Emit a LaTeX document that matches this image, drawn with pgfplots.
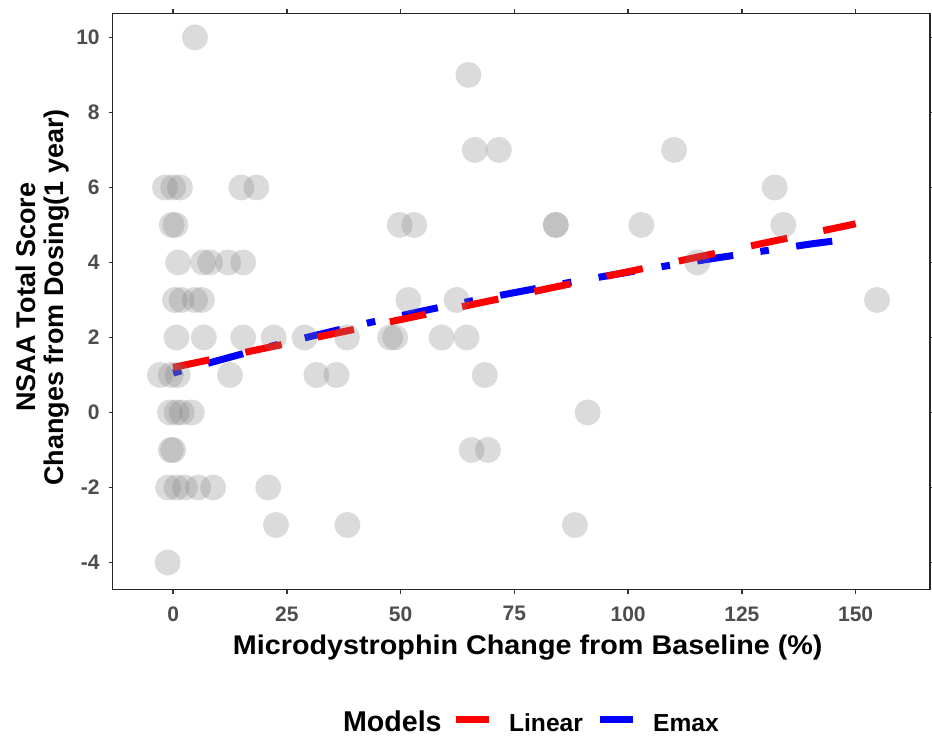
\documentclass[border=0pt]{standalone}
\usepackage{fontspec}
\setmainfont{Liberation Sans}
\usepackage{pgfplots}
\pgfplotsset{compat=1.18}
\definecolor{tickgray}{HTML}{4D4D4D}
\definecolor{ptgray}{HTML}{7F7F7F}
\begin{document}
\begin{tikzpicture}
\path[use as bounding box] (-56.3pt,-73.5pt) rectangle (409.6pt,294.7pt);
\begin{axis}[
  scale only axis, width=408.5pt, height=288pt,
  xmin=-13.3, xmax=166.3, ymin=-4.72, ymax=10.64,
  xtick={0,25,...,150}, ytick={-4,-2,...,10},
  tick align=outside, major tick length=2pt,
  tick style={black!80, line width=0.8pt},
  axis line style={black!85, line width=0.8pt},
  tick label style={font=\fontsize{10.5}{12}\selectfont\bfseries, text=tickgray},
  /pgf/number format/assume math mode=true,
  xticklabel style={anchor=north, inner sep=0pt, yshift=-6.3pt},
  yticklabel style={anchor=east, inner sep=0pt, xshift=-4.3pt},
  clip=true,
]
\addplot[only marks, draw=none, mark=*, mark size=6.5pt, mark options={draw=none, draw opacity=0, fill=ptgray, fill opacity=0.28}] coordinates {
(4.8,10)
(64.9,9)
(66.3,7) (71.6,7) (110.1,7)
(-1.8,6) (0,6) (1.5,6) (15.0,6) (18.3,6) (132.2,6)
(-0.3,5) (0.5,5) (49.8,5) (53.0,5) (84.1,5) (84.1,5) (102.9,5) (134.1,5)
(1.1,4) (6.6,4) (8.1,4) (12.1,4) (15.4,4) (115.2,4)
(0.4,3) (1.85,3) (4.8,3) (6.3,3) (51.7,3) (62.3,3) (154.7,3)
(0.75,2) (6.75,2) (15.4,2) (22.1,2) (28.9,2) (38.2,2) (47.7,2) (48.8,2) (59.0,2) (64.5,2)
(-2.9,1) (-0.5,1) (1.0,1) (12.5,1) (31.5,1) (35.9,1) (68.5,1)
(-0.7,0) (0.75,0) (1.9,0) (4.1,0) (91.1,0)
(-0.5,-1) (0,-1) (65.6,-1) (69.2,-1)
(-1.1,-2) (0.75,-2) (2.6,-2) (5.5,-2) (8.8,-2) (20.9,-2)
(22.6,-3) (38.3,-3) (88.3,-3)
(-1.2,-4)
};
\addplot[blue, line width=3.5pt, dash pattern=on 4.3pt off 13.8pt on 18.2pt off 13.7pt] coordinates {
(0,1.05) (10,1.39) (20,1.72) (30,2.02) (40,2.31) (50,2.58) (60,2.84) (70,3.08)
(80,3.31) (90,3.53) (100,3.74) (110,3.94) (120,4.13) (130,4.31) (140,4.49) (147,4.60)
};
\addplot[red, line width=3.5pt, dash pattern=on 18.5pt off 18.4pt] coordinates {
(0,1.2) (150,5.03)
};
\end{axis}
\node[anchor=base, inner sep=0pt, xscale=1.065, font=\fontsize{13.5}{16}\selectfont\bfseries] at (207.5pt,-32.5pt) {Microdystrophin Change from Baseline (\%)};
\node[anchor=base, inner sep=0pt, rotate=90, font=\fontsize{13.5}{16}\selectfont\bfseries] at (-38.5pt,146pt) {NSAA Total Score};
\node[anchor=base, inner sep=0pt, rotate=90, font=\fontsize{13.5}{16}\selectfont\bfseries] at (-24.5pt,146pt) {Changes from Dosing(1 year)};
\node[anchor=base west, inner sep=0pt, font=\fontsize{14.3}{17}\selectfont\bfseries] at (115pt,-71pt) {Models};
\draw[red, line width=3.8pt] (171.5pt,-65pt) -- (188pt,-65pt);
\node[anchor=base west, inner sep=0pt, font=\fontsize{12.3}{14}\selectfont\bfseries] at (198pt,-71pt) {Linear};
\draw[blue, line width=3.8pt] (243.5pt,-65pt) -- (260pt,-65pt);
\node[anchor=base west, inner sep=0pt, font=\fontsize{12.3}{14}\selectfont\bfseries] at (270pt,-71pt) {Emax};
\end{tikzpicture}
\end{document}
